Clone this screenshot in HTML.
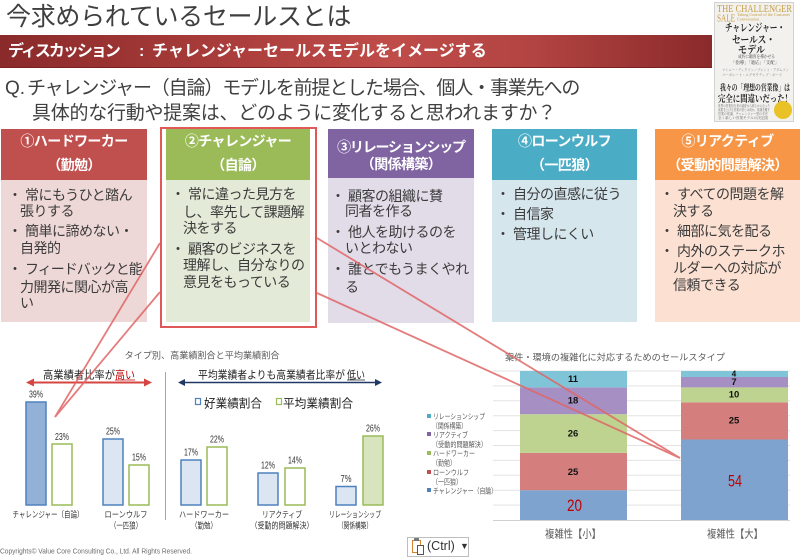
<!DOCTYPE html>
<html><head><meta charset="utf-8">
<style>
*{margin:0;padding:0;box-sizing:border-box}
body{width:800px;height:555px;overflow:hidden;background:#fff;position:relative;font-family:"Liberation Sans","Noto Sans CJK JP",sans-serif;}
.a{position:absolute;white-space:nowrap}
.hd{position:absolute;color:#fff;font-weight:bold;font-size:14px;line-height:18px;text-align:center;letter-spacing:-0.6px;white-space:nowrap}
.b{position:absolute;font-size:14px;line-height:17px;color:#3b3b3b;letter-spacing:-0.5px;white-space:nowrap}
</style></head><body>

<!-- Title -->
<div class="a" style="left:6px;top:2px;font-size:25px;line-height:30px;color:#3f3f3f;letter-spacing:-0.3px">今求められているセールスとは</div>

<!-- Banner -->
<div class="a" style="left:0;top:35px;width:712px;height:33px;background:linear-gradient(to right,#8a2a2a 0%,#a83c3a 30%,#bf4c49 55%,#b24442 75%,#8a2a2a 100%);border-bottom:1px solid #7a2020"></div>
<div class="a" style="left:8px;top:42px;font-size:16px;line-height:20px;color:#fff;font-weight:bold;letter-spacing:-2px">ディスカッション</div>
<div class="a" style="left:139px;top:42px;font-size:16px;line-height:20px;color:#fff;font-weight:bold">:</div>
<div class="a" style="left:152px;top:42px;font-size:16px;line-height:20px;color:#fff;font-weight:bold;letter-spacing:0px">チャレンジャーセールスモデルをイメージする</div>

<!-- Book cover -->
<svg class="a" style="left:714px;top:2px" width="80" height="120" viewBox="714 2 80 120">
  <rect x="714.5" y="2.5" width="79" height="119" fill="#f2f1ee" stroke="#d2d2d2"/>
  <g font-family="'Liberation Serif','Noto Serif CJK SC',serif">
    <text x="717" y="12" font-size="10.5" fill="#c59d45" textLength="75" lengthAdjust="spacingAndGlyphs">THE CHALLENGER</text>
    <text x="717" y="21.5" font-size="10.5" fill="#c59d45" textLength="18" lengthAdjust="spacingAndGlyphs">SALE</text>
    <text x="737" y="16" font-size="4" fill="#c59d45" textLength="53" lengthAdjust="spacingAndGlyphs">Taking Control of the Customer</text>
    <text x="737" y="20.5" font-size="4" fill="#c59d45" textLength="22" lengthAdjust="spacingAndGlyphs">Conversation</text>
    <text x="725" y="31" font-size="10.5" font-weight="bold" fill="#222" textLength="60" lengthAdjust="spacingAndGlyphs">チャレンジャー・</text>
    <text x="732" y="43" font-size="10.5" font-weight="bold" fill="#222" textLength="43" lengthAdjust="spacingAndGlyphs">セールス・</text>
    <text x="738" y="53" font-size="10.5" font-weight="bold" fill="#222" textLength="27" lengthAdjust="spacingAndGlyphs">モデル</text>
    <text x="738" y="58" font-size="4.5" fill="#444" textLength="37" lengthAdjust="spacingAndGlyphs">成約に顧客を導かせる</text>
    <text x="731" y="64" font-size="4.5" fill="#444" textLength="48" lengthAdjust="spacingAndGlyphs">「指導」「適応」「支配」</text>
    <text x="722" y="71" font-size="3.5" fill="#777" textLength="67" lengthAdjust="spacingAndGlyphs">マシュー・ディクソン／ブレント・アダムソン</text>
    <text x="722" y="76" font-size="3.5" fill="#777" textLength="60" lengthAdjust="spacingAndGlyphs">コーポレート・エグゼクティブ・ボード</text>
    <text x="720" y="90.5" font-size="8.5" font-weight="bold" fill="#222" textLength="70" lengthAdjust="spacingAndGlyphs">我々の「理想の営業像」は</text>
    <text x="718" y="102" font-size="9.5" font-weight="bold" fill="#222" textLength="74" lengthAdjust="spacingAndGlyphs">完全に間違いだった！</text>
    <text x="718" y="107" font-size="3.2" fill="#666" textLength="52" lengthAdjust="spacingAndGlyphs">世界の営業担当者の調査から明らかになった</text>
    <text x="718" y="111" font-size="3.2" fill="#666" textLength="52" lengthAdjust="spacingAndGlyphs">成果を上げる営業の型とは何か。常識を覆す</text>
    <text x="718" y="115" font-size="3.2" fill="#666" textLength="50" lengthAdjust="spacingAndGlyphs">営業の常識、チャレンジャー型の手法</text>
    <text x="718" y="119" font-size="3.2" fill="#666" textLength="50" lengthAdjust="spacingAndGlyphs">全く新しい営業モデルの決定版</text>
  </g>
  <circle cx="783" cy="110" r="9" fill="#e8c227"/>
</svg>

<!-- Question -->
<div class="a" style="left:5px;top:78px;font-size:19px;line-height:22px;color:#404040">Q.</div>
<div class="a" style="left:27px;top:78px;font-size:19px;line-height:22px;color:#404040;letter-spacing:-1.15px">チャレンジャー（自論）モデルを前提とした場合、個人・事業先への</div>
<div class="a" style="left:32px;top:103px;font-size:19px;line-height:22px;color:#404040;letter-spacing:-0.25px">具体的な行動や提案は、どのように変化すると思われますか？</div>

<!-- Card 1 -->
<div class="a" style="left:1px;top:129px;width:146px;height:51px;background:#c0504d"></div>
<div class="a" style="left:1px;top:180px;width:146px;height:142px;background:#eed8d7"></div>
<div class="hd" style="left:1px;top:132px;width:146px">①ハードワーカー</div>
<div class="hd" style="left:1px;top:156px;width:146px">（勤勉）</div>
<div class="b" style="left:8px;top:186.5px">・</div><div class="b" style="left:25px;top:186.5px">常にもうひと踏ん</div>
<div class="b" style="left:20px;top:202.5px">張りする</div>
<div class="b" style="left:8px;top:222.5px">・</div><div class="b" style="left:25px;top:222.5px">簡単に諦めない・</div>
<div class="b" style="left:20px;top:239.5px">自発的</div>
<div class="b" style="left:8px;top:260.5px">・</div><div class="b" style="left:25px;top:260.5px;letter-spacing:-1px">フィードバックと能</div>
<div class="b" style="left:20px;top:278.5px">力開発に関心が高</div>
<div class="b" style="left:20px;top:294.5px">い</div>

<!-- Card 2 (highlighted) -->
<div class="a" style="left:160px;top:127px;width:157px;height:201px;border:2px solid #e05858"></div>
<div class="a" style="left:166px;top:129px;width:144px;height:51px;background:#9bbb59"></div>
<div class="a" style="left:166px;top:180px;width:144px;height:142px;background:#e3ead7"></div>
<div class="hd" style="left:166px;top:132px;width:144px">②チャレンジャー</div>
<div class="hd" style="left:166px;top:156px;width:144px">（自論）</div>
<div class="b" style="left:171px;top:185.5px">・</div><div class="b" style="left:188px;top:185.5px">常に違った見方を</div>
<div class="b" style="left:183px;top:203.5px">し、率先して課題解</div>
<div class="b" style="left:183px;top:219.5px">決をする</div>
<div class="b" style="left:171px;top:240.5px">・</div><div class="b" style="left:188px;top:240.5px">顧客のビジネスを</div>
<div class="b" style="left:183px;top:256.5px">理解し、自分なりの</div>
<div class="b" style="left:183px;top:273.5px">意見をもっている</div>

<!-- Card 3 -->
<div class="a" style="left:328px;top:129px;width:146px;height:49px;background:#8064a2"></div>
<div class="a" style="left:328px;top:178px;width:146px;height:145px;background:#e2dce9"></div>
<div class="hd" style="left:328px;top:138px;width:146px;letter-spacing:-1.2px">③リレーションシップ</div>
<div class="hd" style="left:328px;top:155px;width:146px">（関係構築）</div>
<div class="b" style="left:331px;top:187.5px">・</div><div class="b" style="left:348px;top:187.5px">顧客の組織に賛</div>
<div class="b" style="left:345px;top:202.5px">同者を作る</div>
<div class="b" style="left:331px;top:223.5px">・</div><div class="b" style="left:348px;top:223.5px">他人を助けるのを</div>
<div class="b" style="left:345px;top:239.5px">いとわない</div>
<div class="b" style="left:331px;top:260.5px">・</div><div class="b" style="left:348px;top:260.5px">誰とでもうまくやれ</div>
<div class="b" style="left:345px;top:278.5px">る</div>

<!-- Card 4 -->
<div class="a" style="left:492px;top:129px;width:145px;height:51px;background:#4bacc6"></div>
<div class="a" style="left:492px;top:180px;width:145px;height:142px;background:#d5e6ed"></div>
<div class="hd" style="left:492px;top:132px;width:145px">④ローンウルフ</div>
<div class="hd" style="left:492px;top:156px;width:145px">（一匹狼）</div>
<div class="b" style="left:496px;top:185.5px">・</div><div class="b" style="left:513px;top:185.5px">自分の直感に従う</div>
<div class="b" style="left:496px;top:205.5px">・</div><div class="b" style="left:513px;top:205.5px">自信家</div>
<div class="b" style="left:496px;top:225.5px">・</div><div class="b" style="left:513px;top:225.5px">管理しにくい</div>

<!-- Card 5 -->
<div class="a" style="left:655px;top:129px;width:145px;height:51px;background:#f79646"></div>
<div class="a" style="left:655px;top:180px;width:145px;height:142px;background:#fce1d3"></div>
<div class="hd" style="left:655px;top:132px;width:145px">⑤リアクティブ</div>
<div class="hd" style="left:655px;top:156px;width:145px">（受動的問題解決）</div>
<div class="b" style="left:660px;top:185.5px">・</div><div class="b" style="left:677px;top:185.5px">すべての問題を解</div>
<div class="b" style="left:673px;top:202.5px">決する</div>
<div class="b" style="left:660px;top:222.5px">・</div><div class="b" style="left:677px;top:222.5px">細部に気を配る</div>
<div class="b" style="left:660px;top:242.5px">・</div><div class="b" style="left:677px;top:242.5px">内外のステークホ</div>
<div class="b" style="left:673px;top:259.5px">ルダーへの対応が</div>
<div class="b" style="left:673px;top:276.5px">信頼できる</div>

<!-- Paste button -->
<div class="a" style="left:407px;top:537px;width:62px;height:20px;border:1px solid #bdbdbd;background:#fff"></div>
<div class="a" style="left:412px;top:540px;width:9px;height:13px;border:1.5px solid #d9822b;background:#fff"></div>
<div class="a" style="left:414px;top:538px;width:5px;height:3px;background:#777"></div>
<div class="a" style="left:417px;top:545px;width:7px;height:10px;border:1px solid #555;background:#fff"></div>
<div class="a" style="left:427px;top:538px;font-size:12.5px;line-height:16px;color:#333">(Ctrl)</div>
<div class="a" style="left:460px;top:538px;font-size:9px;line-height:16px;color:#333">▼</div>

<!-- Charts + connectors -->
<svg class="a" style="left:0;top:0;z-index:5;font-family:'Liberation Sans','Noto Sans CJK JP',sans-serif" width="800" height="555" viewBox="0 0 800 555">
  <!-- LEFT CHART -->
  <text x="202" y="358.5" font-size="9" fill="#595959" text-anchor="middle" textLength="155" lengthAdjust="spacingAndGlyphs">タイプ別、高業績割合と平均業績割合</text>
  <text x="43" y="378.5" font-size="11" fill="#222" textLength="72" lengthAdjust="spacingAndGlyphs">高業績者比率が</text>
  <text x="115" y="378.5" font-size="11" fill="#c00000" textLength="20" lengthAdjust="spacingAndGlyphs">高い</text>
  <line x1="115" y1="380" x2="135" y2="380" stroke="#c00000" stroke-width="0.8"/>
  <line x1="31" y1="382.5" x2="147" y2="382.5" stroke="#d64541" stroke-width="2"/>
  <polygon points="26,382.5 34,378.5 34,386.5" fill="#d64541"/>
  <polygon points="152,382.5 144,378.5 144,386.5" fill="#d64541"/>
  <line x1="165.5" y1="372" x2="165.5" y2="520" stroke="#a6a6a6" stroke-width="1"/>
  <text x="198" y="378.5" font-size="11" fill="#222" textLength="147" lengthAdjust="spacingAndGlyphs">平均業績者よりも高業績者比率が</text>
  <text x="347" y="378.5" font-size="11" fill="#222" textLength="18" lengthAdjust="spacingAndGlyphs">低い</text>
  <line x1="347" y1="380" x2="365" y2="380" stroke="#222" stroke-width="0.8"/>
  <line x1="182" y1="382.5" x2="378" y2="382.5" stroke="#1f3864" stroke-width="1.5"/>
  <polygon points="178,382.5 185,379 185,386" fill="#1f3864"/>
  <polygon points="382,382.5 375,379 375,386" fill="#1f3864"/>
  <rect x="195.5" y="398.5" width="5" height="6" fill="#fff" stroke="#4f81bd" stroke-width="1.2"/>
  <text x="204" y="407.5" font-size="12" fill="#222" textLength="58" lengthAdjust="spacingAndGlyphs">好業績割合</text>
  <rect x="276.5" y="398.5" width="5" height="6" fill="#fff" stroke="#9bbb59" stroke-width="1.2"/>
  <text x="283" y="407.5" font-size="12" fill="#222" textLength="70" lengthAdjust="spacingAndGlyphs">平均業績割合</text>

  <g stroke-width="1.5">
    <rect x="26" y="402" width="20" height="103" fill="#93b1d6" stroke="#4f81bd"/>
    <rect x="52" y="444" width="20" height="61" fill="#fff" stroke="#9bbb59"/>
    <rect x="103" y="439" width="20" height="66" fill="#dce6f2" stroke="#4f81bd"/>
    <rect x="129" y="465" width="20" height="40" fill="#fff" stroke="#9bbb59"/>
    <rect x="181" y="460" width="20" height="45" fill="#dce6f2" stroke="#4f81bd"/>
    <rect x="207" y="447" width="20" height="58" fill="#fff" stroke="#9bbb59"/>
    <rect x="258" y="473" width="20" height="32" fill="#dce6f2" stroke="#4f81bd"/>
    <rect x="285" y="468" width="20" height="37" fill="#fff" stroke="#9bbb59"/>
    <rect x="336" y="486.5" width="20" height="18.5" fill="#dce6f2" stroke="#4f81bd"/>
    <rect x="363" y="436" width="20" height="69" fill="#d7e4bd" stroke="#9bbb59"/>
  </g>
  <g font-size="10" fill="#333" text-anchor="middle">
    <text x="36" y="397.5" textLength="14" lengthAdjust="spacingAndGlyphs">39%</text>
    <text x="62" y="440" textLength="14" lengthAdjust="spacingAndGlyphs">23%</text>
    <text x="113" y="434.5" textLength="14" lengthAdjust="spacingAndGlyphs">25%</text>
    <text x="139" y="460.5" textLength="14" lengthAdjust="spacingAndGlyphs">15%</text>
    <text x="191" y="455.5" textLength="14" lengthAdjust="spacingAndGlyphs">17%</text>
    <text x="217" y="442.5" textLength="14" lengthAdjust="spacingAndGlyphs">22%</text>
    <text x="268" y="468.5" textLength="14" lengthAdjust="spacingAndGlyphs">12%</text>
    <text x="295" y="463.5" textLength="14" lengthAdjust="spacingAndGlyphs">14%</text>
    <text x="346" y="482" textLength="11" lengthAdjust="spacingAndGlyphs">7%</text>
    <text x="373" y="431.5" textLength="14" lengthAdjust="spacingAndGlyphs">26%</text>
  </g>
  <g font-size="8.5" fill="#333" text-anchor="middle">
    <text x="48" y="517.5" textLength="71" lengthAdjust="spacingAndGlyphs">チャレンジャー（自論）</text>
    <text x="126" y="517.5" textLength="43" lengthAdjust="spacingAndGlyphs">ローンウルフ</text>
    <text x="126" y="528.5" textLength="32" lengthAdjust="spacingAndGlyphs">（一匹狼）</text>
    <text x="204" y="517.5" textLength="50" lengthAdjust="spacingAndGlyphs">ハードワーカー</text>
    <text x="204" y="528.5" textLength="26" lengthAdjust="spacingAndGlyphs">（勤勉）</text>
    <text x="282" y="517.5" textLength="40" lengthAdjust="spacingAndGlyphs">リアクティブ</text>
    <text x="282" y="528.5" textLength="63" lengthAdjust="spacingAndGlyphs">（受動的問題解決）</text>
    <text x="355" y="517.5" textLength="52" lengthAdjust="spacingAndGlyphs">リレーションシップ</text>
    <text x="355" y="528.5" textLength="34" lengthAdjust="spacingAndGlyphs">（関係構築）</text>
  </g>
  <text x="0" y="553.5" font-size="7" fill="#6b6b6b" textLength="192" lengthAdjust="spacingAndGlyphs">Copyrights© Value Core Consulting Co., Ltd.  All Rights Reserved.</text>

  <!-- RIGHT CHART -->
  <text x="615" y="360.5" font-size="9" fill="#595959" text-anchor="middle" textLength="220" lengthAdjust="spacingAndGlyphs">案件・環境の複雑化に対応するためのセールスタイプ</text>
  <g stroke="#e3e3e3" stroke-width="1">
    <line x1="493" y1="371" x2="790" y2="371"/>
    <line x1="493" y1="385.9" x2="790" y2="385.9"/>
    <line x1="493" y1="400.8" x2="790" y2="400.8"/>
    <line x1="493" y1="415.7" x2="790" y2="415.7"/>
    <line x1="493" y1="430.6" x2="790" y2="430.6"/>
    <line x1="493" y1="445.5" x2="790" y2="445.5"/>
    <line x1="493" y1="460.4" x2="790" y2="460.4"/>
    <line x1="493" y1="475.3" x2="790" y2="475.3"/>
    <line x1="493" y1="490.2" x2="790" y2="490.2"/>
    <line x1="493" y1="505.1" x2="790" y2="505.1"/>
  </g>
  <line x1="493" y1="520.5" x2="790" y2="520.5" stroke="#d0d0d0" stroke-width="1"/>
  <!-- bar 1 -->
  <rect x="520" y="490.2" width="107" height="29.8" fill="#7ea3cf"/>
  <rect x="520" y="452.9" width="107" height="37.3" fill="#d47f7d"/>
  <rect x="520" y="414.2" width="107" height="38.7" fill="#bdd38f"/>
  <rect x="520" y="387.4" width="107" height="26.8" fill="#a68fc2"/>
  <rect x="520" y="371" width="107" height="16.4" fill="#7fc5d7"/>
  <!-- bar 2 -->
  <rect x="681" y="439.5" width="107" height="80.5" fill="#7ea3cf"/>
  <rect x="681" y="402.3" width="107" height="37.2" fill="#d47f7d"/>
  <rect x="681" y="387.4" width="107" height="14.9" fill="#bdd38f"/>
  <rect x="681" y="377" width="107" height="10.4" fill="#a68fc2"/>
  <rect x="681" y="371" width="107" height="6" fill="#7fc5d7"/>
  <g font-size="9.5" font-weight="bold" fill="#111" text-anchor="middle">
    <text x="573" y="382">11</text>
    <text x="573" y="403.5">18</text>
    <text x="573" y="436.5">26</text>
    <text x="573" y="475">25</text>
    <text x="734" y="376.5" font-size="8">4</text>
    <text x="734" y="385">7</text>
    <text x="734" y="397.5">10</text>
    <text x="734" y="423.5">25</text>
  </g>
  <text x="574.5" y="511" font-size="17" fill="#c00000" text-anchor="middle" textLength="15" lengthAdjust="spacingAndGlyphs">20</text>
  <text x="735" y="486.5" font-size="17" fill="#c00000" text-anchor="middle" textLength="14" lengthAdjust="spacingAndGlyphs">54</text>
  <text x="573" y="537.5" font-size="11" fill="#595959" text-anchor="middle" textLength="56" lengthAdjust="spacingAndGlyphs">複雑性【小】</text>
  <text x="735" y="537.5" font-size="11" fill="#595959" text-anchor="middle" textLength="56" lengthAdjust="spacingAndGlyphs">複雑性【大】</text>
  <!-- legend -->
  <g font-size="7.5" fill="#595959">
    <rect x="427" y="414" width="4" height="4" fill="#4bacc6"/>
    <text x="433" y="419" textLength="52" lengthAdjust="spacingAndGlyphs">リレーションシップ</text>
    <text x="432" y="428.5" textLength="35" lengthAdjust="spacingAndGlyphs">（関係構築）</text>
    <rect x="427" y="432" width="4" height="4" fill="#8064a2"/>
    <text x="433" y="437.5" textLength="35" lengthAdjust="spacingAndGlyphs">リアクティブ</text>
    <text x="432" y="447" textLength="55" lengthAdjust="spacingAndGlyphs">（受動的問題解決）</text>
    <rect x="427" y="451" width="4" height="4" fill="#9bbb59"/>
    <text x="433" y="456" textLength="42" lengthAdjust="spacingAndGlyphs">ハードワーカー</text>
    <text x="432" y="465.5" textLength="24" lengthAdjust="spacingAndGlyphs">（勤勉）</text>
    <rect x="427" y="470" width="4" height="4" fill="#c0504d"/>
    <text x="433" y="475" textLength="36" lengthAdjust="spacingAndGlyphs">ローンウルフ</text>
    <text x="432" y="484.5" textLength="30" lengthAdjust="spacingAndGlyphs">（一匹狼）</text>
    <rect x="427" y="488" width="4" height="4" fill="#4f81bd"/>
    <text x="433" y="493.5" textLength="64" lengthAdjust="spacingAndGlyphs">チャレンジャー（自論）</text>
  </g>

  <!-- connector lines -->
  <g stroke="#e06666" stroke-width="1.8" opacity="0.85">
    <line x1="160" y1="243" x2="55" y2="417"/>
    <line x1="160" y1="292" x2="55" y2="417"/>
    <line x1="317" y1="238" x2="680" y2="458"/>
    <line x1="317" y1="293" x2="680" y2="458"/>
  </g>
</svg>
</body></html>
